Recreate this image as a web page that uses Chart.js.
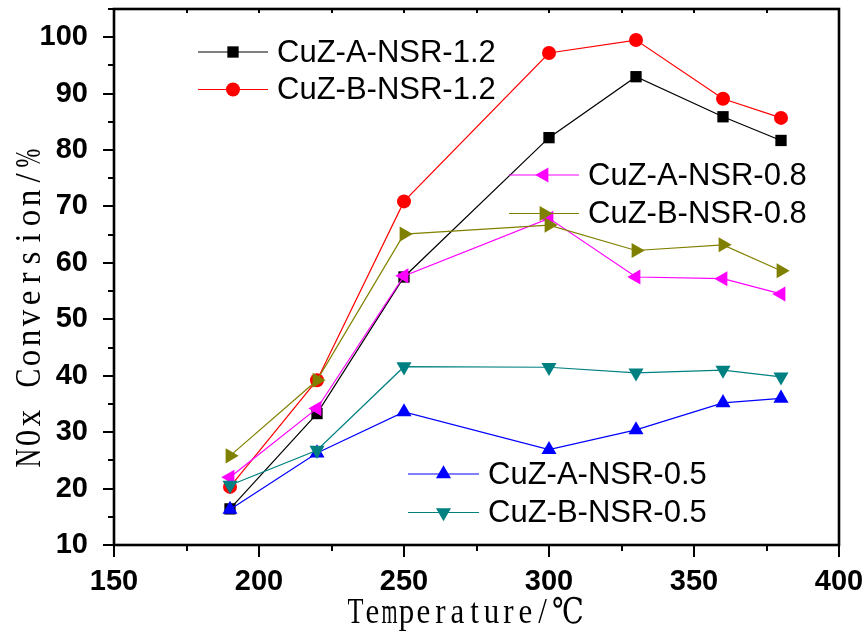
<!DOCTYPE html>
<html>
<head>
<meta charset="utf-8">
<script src="https://cdn.jsdelivr.net/npm/chart.js@4/dist/chart.umd.min.js"></script>
<style>
  html, body { margin: 0; padding: 0; background: #ffffff; }
  #wrap { width: 867px; height: 633px; position: relative; }
</style>
</head>
<body>
<div id="wrap"><canvas id="c" width="867" height="633"></canvas></div>
<script>
// Reaction temperatures (°C)
const temperatures = [190, 220, 250, 300, 330, 360, 380];

// NOx conversion (%) for each catalyst
const cuzA12 = [16.4, 33.3, 57.5, 82.2, 93.0, 85.9, 81.7];
const cuzB12 = [20.3, 39.2, 70.9, 97.2, 99.5, 89.1, 85.7];
const cuzA08 = [22.0, 34.2, 57.7, 67.9, 57.5, 57.2, 54.5];
const cuzB08 = [25.8, 39.2, 65.1, 66.7, 62.2, 63.2, 58.6];
const cuzA05 = [16.3, 26.3, 33.6, 26.9, 30.4, 35.2, 36.0];
const cuzB05 = [20.6, 26.8, 41.6, 41.5, 40.5, 41.0, 39.8];

const seriesNames = [
  'CuZ-A-NSR-1.2', 'CuZ-B-NSR-1.2',
  'CuZ-A-NSR-0.8', 'CuZ-B-NSR-0.8',
  'CuZ-A-NSR-0.5', 'CuZ-B-NSR-0.5'
];

// Axis ticks
const xTickValues = [150, 200, 250, 300, 350, 400];
const yTickValues = [10, 20, 30, 40, 50, 60, 70, 80, 90, 100];

const xTitle = 'Temperature/\u2103';
const yTitle = 'N0x Conversion/%';

// Marker / line styles per series
const styles = [
  { color: '#000000', pointStyle: 'rect',     rotation: 0,   radius: 8 },
  { color: '#ff0000', pointStyle: 'circle',   rotation: 0,   radius: 7 },
  { color: '#ff00ff', pointStyle: 'triangle', rotation: -90, radius: 8.7 },
  { color: '#808000', pointStyle: 'triangle', rotation: 90,  radius: 8.7 },
  { color: '#0000ff', pointStyle: 'triangle', rotation: 0,   radius: 8.7 },
  { color: '#008080', pointStyle: 'triangle', rotation: 180, radius: 8.7 }
];

const seriesValues = [cuzA12, cuzB12, cuzA08, cuzB08, cuzA05, cuzB05];

const datasets = seriesValues.map((vals, i) => ({
  label: seriesNames[i],
  data: temperatures.map((t, j) => ({ x: t, y: vals[j] })),
  borderColor: styles[i].color,
  backgroundColor: styles[i].color,
  pointBackgroundColor: styles[i].color,
  pointBorderColor: styles[i].color,
  pointBorderWidth: 0,
  borderWidth: 1.2,
  pointStyle: styles[i].pointStyle,
  pointRotation: styles[i].rotation,
  pointRadius: styles[i].radius,
  pointHoverRadius: styles[i].radius,
  tension: 0,
  order: seriesValues.length - i
}));

// Legend groups placed inside the plot frame (offsets from chart area)
const legendGroups = [
  { series: [0, 1], lineX0: 84,  lineX1: 154, rowY: [43, 80.5] },
  { series: [2, 3], lineX0: 395, lineX1: 465, rowY: [166, 204.5] },
  { series: [4, 5], lineX0: 294, lineX1: 365, rowY: [465, 503.5] }
];

const frameLayout = {
  left: 114, top: 9, right: 839, bottom: 545
};

const tickFont = { family: "'Liberation Sans', Arial, sans-serif", weight: 'bold', size: 29 };
const legendFontCss = "31px 'Liberation Sans', Arial, sans-serif";
const titleFamily = "'Liberation Serif', 'DejaVu Serif', 'Noto Sans CJK SC', serif";

// Axis titles are set on a fixed character pitch (full-width signs take two cells)
const xTitleBox = { cx: 466, baseline: 623, size: 31, stretch: 1.14, cell: 17 };
const yTitleBox = { cy: 308, baseline: 40, size: 33, stretch: 1.1, cell: 20 };

function isWide(ch) { return ch.charCodeAt(0) > 0x2000; }

function drawPitchedText(ctx, text, size, stretch, cell) {
  const chars = Array.from(text);
  const total = chars.reduce((s, ch) => s + (isWide(ch) ? 2 : 1) * cell, 0);
  ctx.save();
  ctx.scale(1, stretch);
  ctx.font = size + 'px ' + titleFamily;
  ctx.textAlign = 'center';
  ctx.textBaseline = 'alphabetic';
  ctx.fillStyle = '#000000';
  let x = -total / 2;
  chars.forEach(ch => {
    const w = (isWide(ch) ? 2 : 1) * cell;
    if (ch !== ' ') ctx.fillText(ch, x + w / 2, 0, w * 0.94);
    x += w;
  });
  ctx.restore();
}

const framePlugin = {
  id: 'frameAndTicks',
  beforeDraw(chart) {
    const ctx = chart.ctx;
    ctx.save();
    ctx.fillStyle = '#ffffff';
    ctx.fillRect(0, 0, chart.width, chart.height);
    ctx.restore();
  },
  afterDatasetsDraw(chart) {
    const ctx = chart.ctx;
    const area = chart.chartArea;
    const xs = chart.scales.x, ys = chart.scales.y;
    ctx.save();
    ctx.strokeStyle = '#000000';
    ctx.lineCap = 'butt';

    // tick marks
    ctx.lineWidth = 2;
    ctx.beginPath();
    for (let v = 10; v <= 105; v += 5) {
      const y = Math.round(ys.getPixelForValue(v));
      const len = (v % 10 === 0) ? 11 : 6;
      ctx.moveTo(area.left, y);
      ctx.lineTo(area.left - len, y);
    }
    for (let v = 150; v <= 400; v += 25) {
      const x = Math.round(xs.getPixelForValue(v));
      const len = (v % 50 === 0) ? 12 : 6;
      ctx.moveTo(x, area.bottom);
      ctx.lineTo(x, area.bottom + len);
      ctx.moveTo(x, area.top);
      ctx.lineTo(x, area.top + 4);
    }
    ctx.stroke();

    // plot frame
    ctx.lineWidth = 2.6;
    ctx.strokeRect(area.left, area.top, area.right - area.left, area.bottom - area.top);

    // legends
    const drawPoint = Chart.helpers && Chart.helpers.drawPoint;
    legendGroups.forEach(g => {
      g.series.forEach((si, k) => {
        const st = styles[si];
        const y = area.top + g.rowY[k];
        const x0 = area.left + g.lineX0, x1 = area.left + g.lineX1;
        ctx.strokeStyle = st.color;
        ctx.fillStyle = st.color;
        ctx.lineWidth = 1.2;
        ctx.beginPath();
        ctx.moveTo(x0, y);
        ctx.lineTo(x1, y);
        ctx.stroke();
        if (drawPoint) {
          drawPoint(ctx, { pointStyle: st.pointStyle, rotation: st.rotation, radius: st.radius, borderWidth: 0 }, (x0 + x1) / 2, y);
        }
        ctx.fillStyle = '#000000';
        ctx.font = legendFontCss;
        ctx.textAlign = 'left';
        ctx.textBaseline = 'middle';
        ctx.fillText(seriesNames[si], x1 + 9, y + 1);
      });
    });
    ctx.restore();

    // axis titles
    ctx.save();
    ctx.translate(xTitleBox.cx, xTitleBox.baseline);
    drawPitchedText(ctx, xTitle, xTitleBox.size, xTitleBox.stretch, xTitleBox.cell);
    ctx.restore();

    ctx.save();
    ctx.translate(yTitleBox.baseline, yTitleBox.cy);
    ctx.rotate(-Math.PI / 2);
    drawPitchedText(ctx, yTitle, yTitleBox.size, yTitleBox.stretch, yTitleBox.cell);
    ctx.restore();
  }
};

// Fix the plot frame to a set box regardless of label overflow
function pinX(s) {
  s.height = 633 - frameLayout.bottom;
  s.paddingLeft = 0; s.paddingRight = 0; s.paddingTop = 0; s.paddingBottom = 0;
}
function pinY(s) {
  s.width = frameLayout.left;
  s.paddingLeft = 0; s.paddingRight = 0; s.paddingTop = 0; s.paddingBottom = 0;
}

new Chart(document.getElementById('c'), {
  type: 'line',
  data: { datasets },
  options: {
    responsive: false,
    animation: false,
    devicePixelRatio: 1,
    layout: { padding: { top: frameLayout.top, right: 867 - frameLayout.right, left: 0, bottom: 0 } },
    plugins: {
      legend: { display: false },
      tooltip: { enabled: false },
      title: { display: false }
    },
    scales: {
      x: {
        type: 'linear',
        min: 150,
        max: 400,
        grid: { display: false },
        border: { display: false },
        afterBuildTicks: s => { s.ticks = xTickValues.map(v => ({ value: v })); },
        afterFit: pinX,
        ticks: { color: '#000000', font: tickFont, padding: 12, maxRotation: 0 }
      },
      y: {
        type: 'linear',
        min: 10,
        max: 105,
        grid: { display: false },
        border: { display: false },
        afterBuildTicks: s => { s.ticks = yTickValues.map(v => ({ value: v })); },
        afterFit: pinY,
        ticks: { color: '#000000', font: tickFont, padding: 18 }
      }
    }
  },
  plugins: [framePlugin]
});
</script>
</body>
</html>
